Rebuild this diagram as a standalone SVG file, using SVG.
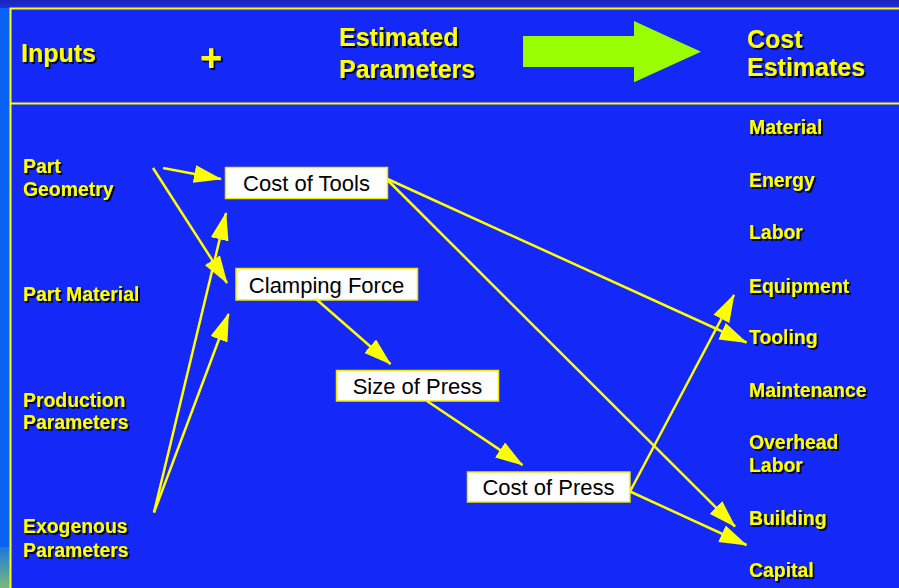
<svg xmlns="http://www.w3.org/2000/svg" width="899" height="588" viewBox="0 0 899 588">
<defs>
<linearGradient id="topG" x1="0" y1="0" x2="0" y2="1"><stop offset="0" stop-color="#1c22b8"/><stop offset="1" stop-color="#1a30e0"/></linearGradient>
<linearGradient id="blG" x1="0" y1="0" x2="0" y2="1"><stop offset="0" stop-color="#1a78e0"/><stop offset="1" stop-color="#7cb87a"/></linearGradient>
<filter id="sh" x="-10%" y="-20%" width="130%" height="150%"><feDropShadow dx="1.8" dy="1.8" stdDeviation="0.2" flood-color="#000" flood-opacity="1"/></filter>
<marker id="ah" markerUnits="userSpaceOnUse" markerWidth="28" markerHeight="18" refX="27" refY="9" orient="auto"><path d="M0,0 L28,9 L0,18 z" fill="#ffff00"/></marker>
<style>
.lbl{font-family:"Liberation Sans",Arial,sans-serif;font-weight:bold;fill:#ffff00;filter:url(#sh)}
.hd{font-size:25px}
.sm{font-size:19.4px}
.box rect{fill:#fff;stroke:#f0e800;stroke-width:1.5}
.box text{font-family:"Liberation Sans",Arial,sans-serif;font-size:22px;fill:#000;text-anchor:middle}
#connectors line{stroke:#ffff00;stroke-width:2.5;marker-end:url(#ah)}
</style>
</defs>
<rect width="899" height="588" fill="#1428f8"/>
<rect x="0" y="0" width="10" height="588" fill="#0a62f4"/>
<rect x="0" y="547" width="10" height="41" fill="url(#blG)"/>
<rect x="0" y="0" width="899" height="8" fill="url(#topG)"/>
<g fill="none" stroke="#ffff00" stroke-width="2">
<path d="M10.5,588 V8.5 H899"/>
<line x1="10.5" y1="103.5" x2="899" y2="103.5"/>
</g>
<g id="header">
<text class="lbl hd" x="21" y="62">Inputs</text>
<text class="lbl" x="200" y="71" style="font-size:38px">+</text>
<text class="lbl hd" x="339" y="46">Estimated</text>
<text class="lbl hd" x="339" y="78">Parameters</text>
<path d="M523,36 H634 V21 L701,51.7 L634,82.3 V67 H523 z" fill="#99ff00"/>
<text class="lbl hd" x="747" y="48">Cost</text>
<text class="lbl hd" x="747" y="76">Estimates</text>
</g>
<g id="inputs">
<text class="lbl sm" x="23" y="173">Part</text>
<text class="lbl sm" x="23" y="196">Geometry</text>
<text class="lbl sm" x="23" y="301">Part Material</text>
<text class="lbl sm" x="23" y="406.5">Production</text>
<text class="lbl sm" x="23" y="429">Parameters</text>
<text class="lbl sm" x="23" y="533">Exogenous</text>
<text class="lbl sm" x="23" y="556.5">Parameters</text>
</g>
<g id="outputs">
<text class="lbl sm" x="749" y="134">Material</text>
<text class="lbl sm" x="749" y="187">Energy</text>
<text class="lbl sm" x="749" y="239">Labor</text>
<text class="lbl sm" x="749" y="292.5">Equipment</text>
<text class="lbl sm" x="749" y="344">Tooling</text>
<text class="lbl sm" x="749" y="396.5">Maintenance</text>
<text class="lbl sm" x="749" y="449">Overhead</text>
<text class="lbl sm" x="749" y="471.5">Labor</text>
<text class="lbl sm" x="749" y="525">Building</text>
<text class="lbl sm" x="749" y="577">Capital</text>
</g>
<g id="cost-of-tools" class="box"><rect x="225.5" y="167.5" width="162" height="31"/><text x="306.5" y="191">Cost of Tools</text></g>
<g id="clamping-force" class="box"><rect x="236" y="268.5" width="181.5" height="31.5"/><text x="326.5" y="292.5">Clamping Force</text></g>
<g id="size-of-press" class="box"><rect x="336.5" y="370.5" width="162" height="30.5"/><text x="417.5" y="393.5">Size of Press</text></g>
<g id="cost-of-press" class="box"><rect x="467.5" y="472" width="162.5" height="30"/><text x="548.5" y="495">Cost of Press</text></g>
<g id="connectors">
<line x1="163" y1="168" x2="221" y2="179"/>
<line x1="153" y1="168" x2="227" y2="283"/>
<line x1="154" y1="512.5" x2="226" y2="213"/>
<line x1="154" y1="512.5" x2="228.5" y2="314"/>
<line x1="316" y1="299" x2="390.5" y2="364"/>
<line x1="427" y1="401" x2="522.5" y2="465"/>
<line x1="387.5" y1="179" x2="746.5" y2="342.5"/>
<line x1="387.5" y1="180" x2="735" y2="526.5"/>
<line x1="630" y1="491.5" x2="734" y2="295"/>
<line x1="630" y1="491.5" x2="746.5" y2="545"/>
</g>
</svg>
